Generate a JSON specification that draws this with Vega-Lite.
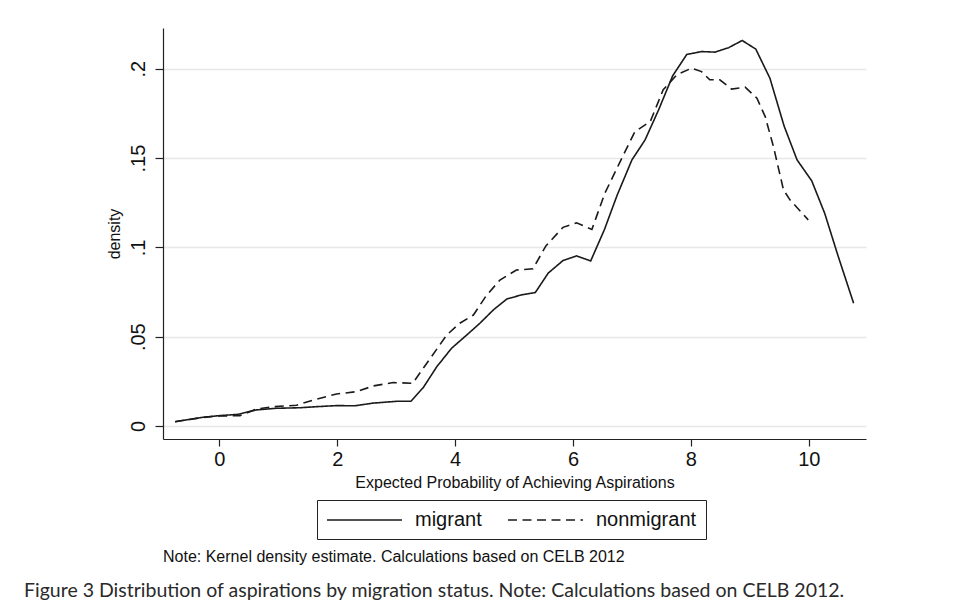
{
  "$schema": "https://vega.github.io/schema/vega-lite/v6.json",
  "padding": {"left": 24, "top": 28, "right": 5, "bottom": 5},
  "background": "white",
  "title": {
    "text": "Figure 3 Distribution of aspirations by migration status. Note: Calculations based on CELB 2012.",
    "orient": "bottom",
    "anchor": "start",
    "frame": "bounds",
    "dx": -82,
    "offset": 17,
    "font": "Lato",
    "fontSize": 19.5,
    "fontWeight": "normal",
    "color": "#2a2a2a"
  },
  "vconcat": [
    {
      "width": 703,
      "height": 411,
      "title": {
        "text": "Note: Kernel density estimate. Calculations based on CELB 2012",
        "orient": "bottom",
        "anchor": "start",
        "frame": "group",
        "offset": 59,
        "font": "Liberation Sans",
        "fontSize": 16,
        "fontWeight": "normal",
        "color": "#111111"
      },
      "data": {
        "values": [
          {"group": "migrant", "x": -0.75, "density": 0.0024},
          {"group": "migrant", "x": -0.27, "density": 0.0049},
          {"group": "migrant", "x": 0.01, "density": 0.0058},
          {"group": "migrant", "x": 0.32, "density": 0.0065},
          {"group": "migrant", "x": 0.63, "density": 0.0090},
          {"group": "migrant", "x": 0.97, "density": 0.0099},
          {"group": "migrant", "x": 1.37, "density": 0.0102},
          {"group": "migrant", "x": 1.65, "density": 0.0108},
          {"group": "migrant", "x": 1.99, "density": 0.0114},
          {"group": "migrant", "x": 2.30, "density": 0.0113},
          {"group": "migrant", "x": 2.61, "density": 0.0128},
          {"group": "migrant", "x": 3.01, "density": 0.0138},
          {"group": "migrant", "x": 3.25, "density": 0.0138},
          {"group": "migrant", "x": 3.46, "density": 0.0215},
          {"group": "migrant", "x": 3.69, "density": 0.0332},
          {"group": "migrant", "x": 3.94, "density": 0.0435},
          {"group": "migrant", "x": 4.20, "density": 0.0510},
          {"group": "migrant", "x": 4.42, "density": 0.0575},
          {"group": "migrant", "x": 4.65, "density": 0.0650},
          {"group": "migrant", "x": 4.88, "density": 0.0711},
          {"group": "migrant", "x": 5.13, "density": 0.0734},
          {"group": "migrant", "x": 5.36, "density": 0.0747},
          {"group": "migrant", "x": 5.58, "density": 0.0856},
          {"group": "migrant", "x": 5.83, "density": 0.0926},
          {"group": "migrant", "x": 6.06, "density": 0.0952},
          {"group": "migrant", "x": 6.30, "density": 0.0924},
          {"group": "migrant", "x": 6.53, "density": 0.1097},
          {"group": "migrant", "x": 6.75, "density": 0.1293},
          {"group": "migrant", "x": 7.00, "density": 0.1490},
          {"group": "migrant", "x": 7.22, "density": 0.1600},
          {"group": "migrant", "x": 7.45, "density": 0.1768},
          {"group": "migrant", "x": 7.69, "density": 0.1960},
          {"group": "migrant", "x": 7.93, "density": 0.2080},
          {"group": "migrant", "x": 8.18, "density": 0.2096},
          {"group": "migrant", "x": 8.41, "density": 0.2093},
          {"group": "migrant", "x": 8.64, "density": 0.2118},
          {"group": "migrant", "x": 8.87, "density": 0.2158},
          {"group": "migrant", "x": 9.10, "density": 0.2110},
          {"group": "migrant", "x": 9.34, "density": 0.1947},
          {"group": "migrant", "x": 9.58, "density": 0.1680},
          {"group": "migrant", "x": 9.80, "density": 0.1490},
          {"group": "migrant", "x": 10.05, "density": 0.1372},
          {"group": "migrant", "x": 10.27, "density": 0.1190},
          {"group": "migrant", "x": 10.50, "density": 0.0948},
          {"group": "migrant", "x": 10.76, "density": 0.0687},
          {"group": "nonmigrant", "x": -0.75, "density": 0.0024},
          {"group": "nonmigrant", "x": -0.27, "density": 0.0048},
          {"group": "nonmigrant", "x": 0.01, "density": 0.0056},
          {"group": "nonmigrant", "x": 0.35, "density": 0.0058},
          {"group": "nonmigrant", "x": 0.63, "density": 0.0095},
          {"group": "nonmigrant", "x": 0.92, "density": 0.0108},
          {"group": "nonmigrant", "x": 1.31, "density": 0.0116},
          {"group": "nonmigrant", "x": 1.60, "density": 0.0146},
          {"group": "nonmigrant", "x": 1.99, "density": 0.0179},
          {"group": "nonmigrant", "x": 2.33, "density": 0.0192},
          {"group": "nonmigrant", "x": 2.61, "density": 0.0224},
          {"group": "nonmigrant", "x": 2.95, "density": 0.0243},
          {"group": "nonmigrant", "x": 3.28, "density": 0.0239},
          {"group": "nonmigrant", "x": 3.52, "density": 0.0351},
          {"group": "nonmigrant", "x": 3.86, "density": 0.0510},
          {"group": "nonmigrant", "x": 4.08, "density": 0.0575},
          {"group": "nonmigrant", "x": 4.31, "density": 0.0621},
          {"group": "nonmigrant", "x": 4.53, "density": 0.0730},
          {"group": "nonmigrant", "x": 4.76, "density": 0.0817},
          {"group": "nonmigrant", "x": 5.04, "density": 0.0873},
          {"group": "nonmigrant", "x": 5.32, "density": 0.0880},
          {"group": "nonmigrant", "x": 5.54, "density": 0.1008},
          {"group": "nonmigrant", "x": 5.83, "density": 0.1112},
          {"group": "nonmigrant", "x": 6.06, "density": 0.1137},
          {"group": "nonmigrant", "x": 6.32, "density": 0.1100},
          {"group": "nonmigrant", "x": 6.54, "density": 0.1303},
          {"group": "nonmigrant", "x": 6.80, "density": 0.1480},
          {"group": "nonmigrant", "x": 7.05, "density": 0.1648},
          {"group": "nonmigrant", "x": 7.31, "density": 0.1704},
          {"group": "nonmigrant", "x": 7.53, "density": 0.1882},
          {"group": "nonmigrant", "x": 7.76, "density": 0.1966},
          {"group": "nonmigrant", "x": 8.01, "density": 0.2003},
          {"group": "nonmigrant", "x": 8.18, "density": 0.1984},
          {"group": "nonmigrant", "x": 8.32, "density": 0.1938},
          {"group": "nonmigrant", "x": 8.49, "density": 0.1938},
          {"group": "nonmigrant", "x": 8.69, "density": 0.1886},
          {"group": "nonmigrant", "x": 8.92, "density": 0.1897},
          {"group": "nonmigrant", "x": 9.12, "density": 0.1835},
          {"group": "nonmigrant", "x": 9.26, "density": 0.1732},
          {"group": "nonmigrant", "x": 9.40, "density": 0.1564},
          {"group": "nonmigrant", "x": 9.57, "density": 0.1322},
          {"group": "nonmigrant", "x": 9.68, "density": 0.1266},
          {"group": "nonmigrant", "x": 9.99, "density": 0.1154}
        ]
      },
      "mark": {"type": "line", "color": "#1a1a1a", "strokeWidth": 1.6},
      "encoding": {
        "x": {
          "field": "x",
          "type": "quantitative",
          "scale": {"domain": [-0.955, 10.97], "nice": false, "zero": false},
          "axis": {
            "values": [0, 2, 4, 6, 8, 10],
            "title": "Expected Probability of Achieving Aspirations",
            "grid": false,
            "tickSize": 7,
            "labelPadding": 3,
            "titlePadding": 5
          }
        },
        "y": {
          "field": "density",
          "type": "quantitative",
          "scale": {"domain": [-0.0073, 0.2228], "nice": false, "zero": false},
          "axis": {
            "values": [0, 0.05, 0.1, 0.15, 0.2],
            "title": "density",
            "grid": true,
            "labelExpr": "datum.value == 0 ? '0' : substring(format(datum.value, '.2~f'), 1)",
            "labelAngle": -90,
            "labelAlign": "center",
            "labelBaseline": "bottom",
            "tickSize": 8,
            "labelPadding": 7,
            "titlePadding": 6
          }
        },
        "strokeDash": {
          "field": "group",
          "type": "nominal",
          "scale": {"domain": ["migrant", "nonmigrant"], "range": [[1, 0], [9, 5.5]]},
          "legend": {
            "title": null,
            "orient": "none",
            "legendX": 154,
            "legendY": 472,
            "direction": "horizontal",
            "strokeColor": "#222222",
            "padding": 9,
            "symbolType": "M-1,0H6.5",
            "symbolSize": 400,
            "symbolStrokeWidth": 1.5,
            "symbolStrokeColor": "#1a1a1a",
            "labelOffset": 67,
            "columnPadding": 23,
            "labelFont": "Liberation Sans",
            "labelFontSize": 20,
            "labelColor": "#111111"
          }
        }
      }
    }
  ],
  "config": {
    "view": {"stroke": null},
    "axis": {
      "domainColor": "#222222",
      "domainWidth": 1.2,
      "tickColor": "#222222",
      "tickWidth": 1.2,
      "labelFont": "Liberation Sans",
      "labelFontSize": 20,
      "labelColor": "#111111",
      "titleFont": "Liberation Sans",
      "titleFontSize": 16,
      "titleFontWeight": "normal",
      "titleColor": "#111111",
      "gridColor": "#e8e8e8",
      "gridWidth": 1.5
    }
  }
}
